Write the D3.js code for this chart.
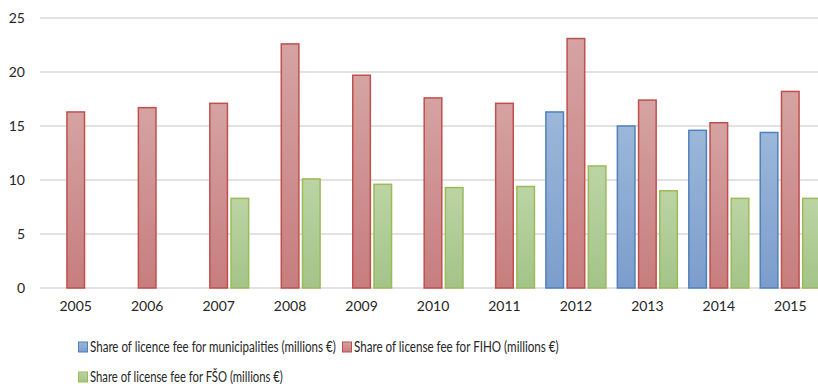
<!DOCTYPE html>
<html>
<head>
<meta charset="utf-8">
<script src="https://cdn.jsdelivr.net/npm/d3@7/dist/d3.min.js"></script>
<style>
  html, body { margin: 0; padding: 0; background: #fff; }
  svg { display: block; font-family: Lato, "Open Sans", sans-serif; }
</style>
</head>
<body>
<svg id="chart" width="818" height="384"></svg>
<script>
const years = ["2005","2006","2007","2008","2009","2010","2011","2012","2013","2014","2015"];
const municipalities = [null, null, null, null, null, null, null, 16.3, 15.0, 14.6, 14.4];
const fiho = [16.3, 16.7, 17.1, 22.6, 19.7, 17.6, 17.1, 23.1, 17.4, 15.3, 18.2];
const fso = [null, null, 8.3, 10.1, 9.6, 9.3, 9.4, 11.3, 9.0, 8.3, 8.3];
const yTicks = [0, 5, 10, 15, 20, 25];
const seriesNames = [
  "Share of licence fee for municipalities (millions €)",
  "Share of license fee for FIHO (millions €)",
  "Share of license fee for FŠO (millions €)"
];

const series = [
  { key: "mun", name: seriesNames[0], values: municipalities, stroke: "#4f81bd", top: "#9bb7d9", bottom: "#7c9dcc" },
  { key: "fiho", name: seriesNames[1], values: fiho, stroke: "#c0504d", top: "#d5a3a3", bottom: "#c77d7e" },
  { key: "fso", name: seriesNames[2], values: fso, stroke: "#9bbb59", top: "#bcd4a4", bottom: "#a3c488" }
];

const svg = d3.select("#chart");
const margin = { left: 40, top: 18 };
const plotRight = 826;
const plotBottom = 288;
const textColor = "#262626";

const x = d3.scaleBand().domain(years).range([margin.left, plotRight]);
const y = d3.scaleLinear().domain([0, 25]).range([plotBottom, margin.top]);

const defs = svg.append("defs");
series.forEach(s => {
  const g = defs.append("linearGradient").attr("id", "grad-" + s.key)
    .attr("x1", 0).attr("y1", 0).attr("x2", 0).attr("y2", 1);
  g.append("stop").attr("offset", "0%").attr("stop-color", s.top);
  g.append("stop").attr("offset", "100%").attr("stop-color", s.bottom);
});

// horizontal gridlines
svg.append("g").selectAll("line").data(yTicks).join("line")
  .attr("x1", margin.left).attr("x2", plotRight)
  .attr("y1", d => y(d)).attr("y2", d => y(d))
  .attr("stroke", "#d9d9d9").attr("stroke-width", 1.3);

// y axis labels
const yAxis = d3.axisLeft(y).tickValues(yTicks).tickSize(0).tickPadding(0);
svg.append("g").attr("transform", "translate(25,0)").call(yAxis)
  .call(g => g.select(".domain").remove())
  .call(g => g.selectAll("text").attr("font-size", 14).attr("fill", textColor).attr("font-family", "Lato, sans-serif"));

// x axis labels
const xAxis = d3.axisBottom(x).tickSize(0).tickPadding(0);
svg.append("g").attr("transform", `translate(0,${plotBottom + 13})`).call(xAxis)
  .call(g => g.select(".domain").remove())
  .call(g => g.selectAll("text").attr("font-size", 14).attr("fill", textColor).attr("font-family", "Lato, sans-serif"));

// clustered bars, three slots per year
const inner = d3.scaleBand().domain(series.map(s => s.key)).range([-30, 30]).paddingInner(0.17);
series.forEach(s => {
  const data = years.map((yr, i) => ({ yr, v: s.values[i] })).filter(d => d.v != null);
  svg.append("g").selectAll("rect").data(data).join("rect")
    .attr("x", d => x(d.yr) + x.bandwidth() / 2 + inner(s.key))
    .attr("width", inner.bandwidth())
    .attr("y", d => y(d.v))
    .attr("height", d => y(0) - y(d.v))
    .attr("fill", `url(#grad-${s.key})`)
    .attr("stroke", s.stroke).attr("stroke-width", 1.5);
});

// legend: two rows; each label is squeezed horizontally to its slot width
const legendPos = [
  { x: 78, y: 347, w: 246 },
  { x: 342, y: 347, w: 205 },
  { x: 78, y: 377, w: 193 }
];
const lg = svg.append("g");
series.forEach((s, i) => {
  const p = legendPos[i];
  const it = lg.append("g").attr("transform", `translate(${p.x},${p.y})`);
  it.append("rect").attr("x", 0.5).attr("y", -5).attr("width", 9).attr("height", 10)
    .attr("fill", `url(#grad-${s.key})`).attr("stroke", s.stroke).attr("stroke-width", 1);
  const t = it.append("g").attr("transform", "translate(12,0)")
    .append("text").attr("x", 0).attr("y", 0).attr("dy", "0.35em")
    .attr("font-size", 14.5).attr("fill", textColor)
    .text(s.name);
  const natural = t.node().getComputedTextLength();
  t.attr("transform", `scale(${Math.min(1, p.w / natural)},1)`);
});
</script>
</body>
</html>
